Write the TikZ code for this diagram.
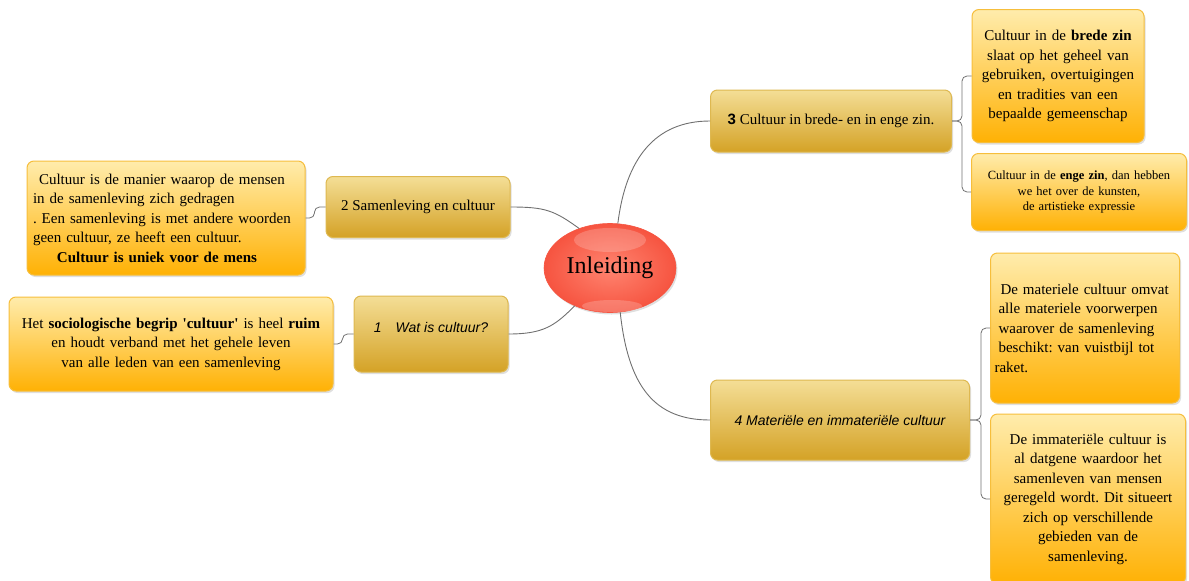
\documentclass[tikz,border=0pt]{standalone}
\usepackage{fontspec}
\setmainfont{Liberation Serif}
\setsansfont{Liberation Sans}
\usepackage{xcolor}
\usepackage{tikz}
\usetikzlibrary{calc,shapes,shadows}
\usetikzlibrary{positioning}
\frenchspacing

\definecolor{goldtop}{RGB}{244,222,150}
\definecolor{goldbot}{RGB}{212,162,38}
\definecolor{goldline}{RGB}{222,184,80}
\definecolor{oranjetop}{RGB}{255,236,172}
\definecolor{oranjebot}{RGB}{255,177,4}
\definecolor{oranjeline}{RGB}{246,190,60}
\definecolor{roodin}{RGB}{255,132,112}
\definecolor{roodout}{RGB}{246,84,64}
\definecolor{lijn}{RGB}{112,112,112}

\begin{document}
\begin{tikzpicture}[x=1pt,y=1pt,yscale=-1,xscale=1,
  branch/.style={draw=goldline,line width=1pt,rounded corners=7pt,top color=goldtop,bottom color=goldbot,
    drop shadow={shadow xshift=1.5pt,shadow yshift=-2pt,opacity=0.25},inner sep=4pt,
    font=\fontsize{15}{19}\selectfont},
  leaf/.style={draw=oranjeline,line width=1pt,rounded corners=7pt,top color=oranjetop,bottom color=oranjebot,
    drop shadow={shadow xshift=1.5pt,shadow yshift=-2pt,opacity=0.25},inner sep=5pt,
    font=\fontsize{15}{19.5}\selectfont},
  link/.style={draw=lijn,line width=0.9pt},
  elbow/.style={draw=lijn,line width=0.8pt,rounded corners=5pt}]
\useasboundingbox (0,0) rectangle (1189,581);

%Shape: Ellipse [centre]
\node[ellipse,draw=roodout,line width=0.6pt,inner color=roodin,outer color=roodout,
  minimum width=118,minimum height=89,drop shadow={shadow xshift=1.5pt,shadow yshift=-2pt,opacity=0.25},
  font=\fontsize{24}{28}\selectfont] (inl) at (610,268) {Inleiding};
\fill[white,opacity=0.2] (610,240) ellipse [x radius=36,y radius=12];
\fill[white,opacity=0.2] (612,306) ellipse [x radius=30,y radius=6];

%Shape: Rectangle [branches]
\node[branch,minimum width=184,minimum height=61] (samen) at (418,207) {2 Samenleving en cultuur};
\node[branch,minimum width=154,minimum height=76,text height=10pt,text depth=14pt,
  font=\sffamily\itshape\fontsize{14}{17}\selectfont] (watis) at (431,334) {1\quad Wat is cultuur?};
\node[branch,minimum width=241,minimum height=62] (brede) at (831,121)
  {\textsf{\textbf{3}} Cultuur in brede- en in enge zin.};
\node[branch,minimum width=259,minimum height=80,
  font=\sffamily\itshape\fontsize{14}{17}\selectfont] (materieel) at (840,420) {4 Materiële en immateriële cultuur};

%Shape: Rectangle [leaves]
\node[leaf,minimum width=278,minimum height=114,text width=266,align=left] (manier) at (166,218)
  {\hspace*{6pt}Cultuur is de manier waarop de mensen\\
   in de samenleving zich gedragen\\
   . Een samenleving is met andere woorden\\
   geen cultuur, ze heeft een cultuur.\\
   \hspace*{24pt}\textbf{Cultuur is uniek voor de mens}};
\node[leaf,minimum width=324,minimum height=94,text width=314,align=center] (begrip) at (171,344)
  {Het \textbf{sociologische begrip \textquotesingle cultuur\textquotesingle} is heel \textbf{ruim}\\
   en houdt verband met het gehele leven\\
   van alle leden van een samenleving};
\node[leaf,minimum width=172,minimum height=133,text width=162,align=center] (breed) at (1058,76)
  {Cultuur in de \textbf{brede zin}\\ slaat op het geheel van\\ gebruiken, overtuigingen\\
   en tradities van een\\ bepaalde gemeenschap};
\node[leaf,minimum width=215,minimum height=77,text width=205,align=center,
  font=\fontsize{12.5}{15.5}\selectfont] (eng) at (1079,192)
  {Cultuur in de \textbf{enge zin}, dan hebben\\ we het over de kunsten,\\ de artistieke expressie};
\node[leaf,minimum width=189,minimum height=150,text width=181,align=left,inner sep=4pt] (mat) at (1085,328)
  {\hspace*{6pt}De materiele cultuur omvat\\
   \hspace*{4pt}alle materiele voorwerpen\\
   \hspace*{4pt}waarover de samenleving\\
   \hspace*{4pt}beschikt: van vuistbijl tot\\
   raket.\\[22pt]};
\node[leaf,minimum width=195,minimum height=170,text width=185,align=center] (immat) at (1088,499)
  {De immateriële cultuur is\\ al datgene waardoor het\\ samenleven van mensen\\
   geregeld wordt. Dit situeert\\ zich op verschillende\\ gebieden van de\\ samenleving.};

%Curves [centre to branches]
\draw[link] (inl.128) .. controls +(-25,-18) and +(35,0) .. (samen.east);
\draw[link] (inl.227) .. controls +(-20,20) and +(35,0) .. (watis.east);
\draw[link] (inl.80) .. controls +(8,-65) and +(-55,0) .. (brede.west);
\draw[link] (inl.283) .. controls +(8,75) and +(-55,0) .. (materieel.west);

%Straight Lines [branches to leaves]
\draw[elbow] (samen.west) -- ++(-11,0) |- (manier.east);
\draw[elbow] (watis.west) -- ++(-11,0) |- (begrip.east);
\draw[elbow] (brede.east) -- ++(10,0) |- (breed.west);
\draw[elbow] (brede.east) -- ++(10,0) |- (eng.west);
\draw[elbow] (materieel.east) -- ++(11,0) |- (mat.west);
\draw[elbow] (materieel.east) -- ++(11,0) |- (immat.west);

\end{tikzpicture}
\end{document}
